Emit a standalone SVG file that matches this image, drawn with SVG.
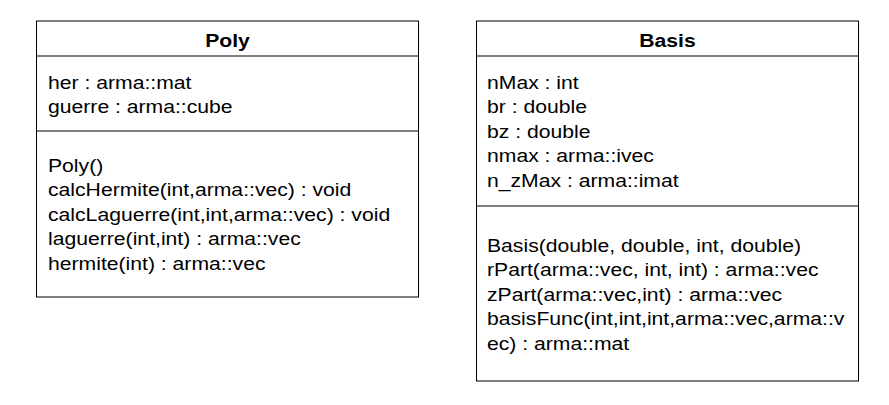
<svg xmlns="http://www.w3.org/2000/svg" width="889" height="405" viewBox="0 0 889 405">
<style>
.box{fill:#ffffff;stroke:#000000;stroke-width:1}
.sep{stroke:#000000;stroke-width:1}
.t{font-family:"Liberation Sans",Arial,sans-serif;font-size:17.5px;fill:#000000}
.h{font-family:"Liberation Sans",Arial,sans-serif;font-size:17.5px;font-weight:bold;fill:#000000;text-anchor:middle}
</style>
<rect width="889" height="405" fill="#ffffff"/>
<g id="Poly">
<rect class="box" x="36.5" y="21" width="382" height="276"/>
<line class="sep" x1="36.5" y1="56" x2="418.5" y2="56"/>
<line class="sep" x1="36.5" y1="131" x2="418.5" y2="131"/>
<g transform="scale(1.21 1)">
<text class="h" x="188.02" y="47">Poly</text>
<text class="t" x="39.67" y="89">her : arma::mat</text>
<text class="t" x="39.67" y="113.5">guerre : arma::cube</text>
<text class="t" x="39.67" y="172">Poly()</text>
<text class="t" x="39.67" y="196.5">calcHermite(int,arma::vec) : void</text>
<text class="t" x="39.67" y="221">calcLaguerre(int,int,arma::vec) : void</text>
<text class="t" x="39.67" y="245.5">laguerre(int,int) : arma::vec</text>
<text class="t" x="39.67" y="270">hermite(int) : arma::vec</text>
</g>
</g>
<g id="Basis">
<rect class="box" x="476.5" y="21" width="382" height="360"/>
<line class="sep" x1="476.5" y1="56" x2="858.5" y2="56"/>
<line class="sep" x1="476.5" y1="206" x2="858.5" y2="206"/>
<g transform="scale(1.21 1)">
<text class="h" x="551.65" y="47">Basis</text>
<text class="t" x="402.48" y="89">nMax : int</text>
<text class="t" x="402.48" y="113.5">br : double</text>
<text class="t" x="402.48" y="138">bz : double</text>
<text class="t" x="402.48" y="162.5">nmax : arma::ivec</text>
<text class="t" x="402.48" y="187">n_zMax : arma::imat</text>
<text class="t" x="402.48" y="252">Basis(double, double, int, double)</text>
<text class="t" x="402.48" y="276.5">rPart(arma::vec, int, int) : arma::vec</text>
<text class="t" x="402.48" y="301">zPart(arma::vec,int) : arma::vec</text>
<text class="t" x="402.48" y="325.5">basisFunc(int,int,int,arma::vec,arma::v</text>
<text class="t" x="402.48" y="350">ec) : arma::mat</text>
</g>
</g>
<g id="connectors"></g>
</svg>
